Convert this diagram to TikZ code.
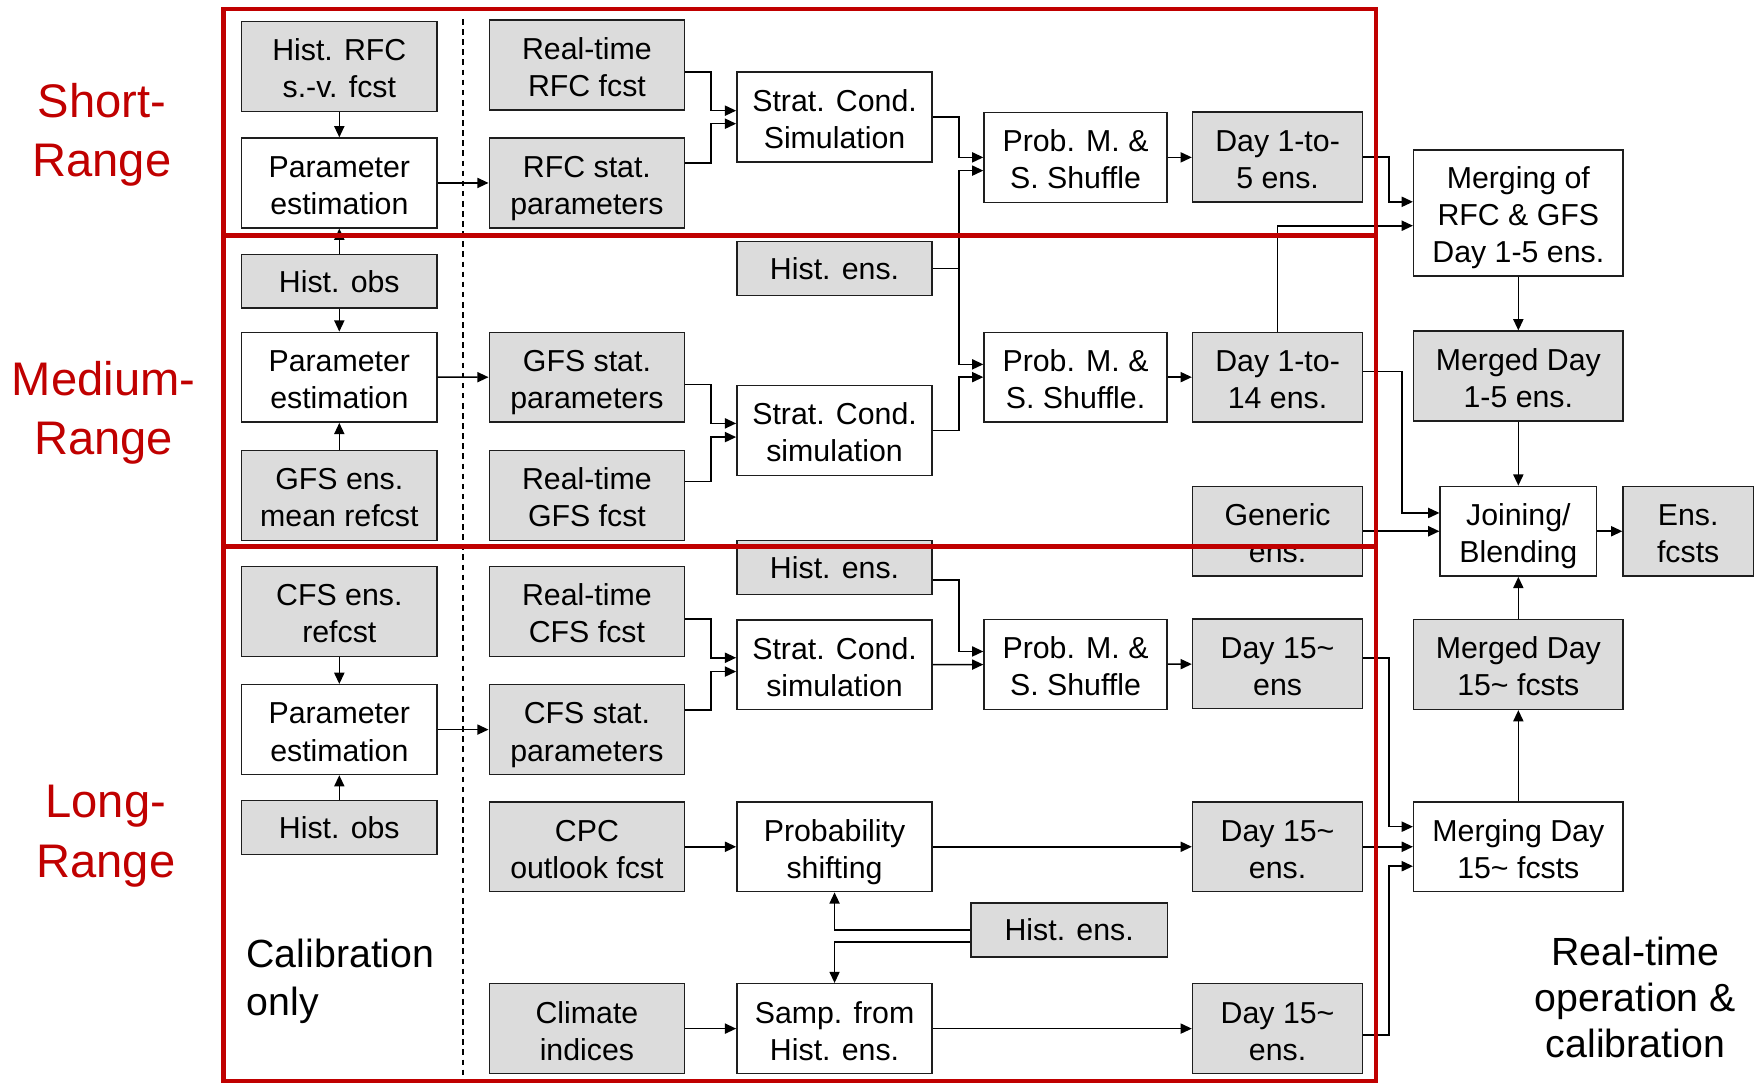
\documentclass[tikz,border=0pt]{standalone}
\usepackage{fontspec}
\setmainfont{Liberation Sans}
\usetikzlibrary{arrows.meta}
\definecolor{boxgray}{RGB}{220,220,220}
\definecolor{framered}{RGB}{192,0,0}
\definecolor{edgecol}{RGB}{30,30,30}
\newcommand{\hs}{\rule{0pt}{29pt}}
\newcommand{\ds}{\rule[-6pt]{0pt}{6pt}}
\begin{document}
\begin{tikzpicture}[x=1pt,y=-1pt,
  bx/.style={draw=edgecol, line width=1.3pt, inner sep=0pt, align=center,
    font=\fontsize{27}{33}\selectfont, minimum height=80pt},
  gb/.style={bx, fill=boxgray},
  wb/.style={bx, fill=white},
  lowbox/.style={minimum height=48pt},
  c1/.style={minimum width=174pt},
  c2/.style={minimum width=174pt},
  c3/.style={minimum width=174pt},
  c4/.style={minimum width=163pt},
  c5/.style={minimum width=151.5pt},
  c6/.style={minimum width=186.5pt},
  arr/.style={line width=1.4pt, draw=black, -{Triangle[length=10pt,width=9pt]}},
  ln/.style={line width=1.4pt, draw=black},
  redlab/.style={text=framered, align=center, font=\fontsize{42}{53}\selectfont, inner sep=0pt},
  biglab/.style={align=center, inner sep=0pt, font=\fontsize{35}{41}\selectfont}
]
\useasboundingbox (0,0) rectangle (1568,965);

% column 1
\node[gb,c1] (hrfc) at (302.3,59.2) {\hs Hist. RFC\\s.-v. fcst\ds};
\node[wb,c1] (pe1) at (302.3,163) {\hs Parameter\\estimation\ds};
\node[gb,c1,lowbox] (hobs1) at (302.3,250.5) {Hist. obs};
\node[wb,c1] (pe2) at (302.3,336.1) {\hs Parameter\\estimation\ds};
\node[gb,c1] (gfsm) at (302.3,441.5) {\hs GFS ens.\\mean refcst\ds};
\node[gb,c1] (cfsr) at (302.3,544.7) {\hs CFS ens.\\refcst\ds};
\node[wb,c1] (pe3) at (302.3,650) {\hs Parameter\\estimation\ds};
\node[gb,c1,lowbox] (hobs2) at (302.3,737.1) {Hist. obs};

% column 2
\node[gb,c2] (rtrfc) at (522.9,58) {\hs Real-time\\RFC fcst\ds};
\node[gb,c2] (rfcs) at (522.9,163) {\hs RFC stat.\\parameters\ds};
\node[gb,c2] (gfss) at (522.9,336) {\hs GFS stat.\\parameters\ds};
\node[gb,c2] (rtgfs) at (522.9,441.5) {\hs Real-time\\GFS fcst\ds};
\node[gb,c2] (rtcfs) at (522.9,544.7) {\hs Real-time\\CFS fcst\ds};
\node[gb,c2] (cfss) at (522.9,650) {\hs CFS stat.\\parameters\ds};
\node[gb,c2] (cpc) at (522.9,754.4) {\hs CPC\\outlook fcst\ds};
\node[gb,c2] (clim) at (522.9,916.4) {\hs Climate\\indices\ds};

% column 3
\node[wb,c3] (sc1) at (743.5,104.2) {\hs Strat. Cond.\\Simulation\ds};
\node[gb,c3,lowbox] (he1) at (743.5,239.1) {Hist. ens.};
\node[wb,c3] (sc2) at (743.5,383.4) {\hs Strat. Cond.\\simulation\ds};
\node[gb,c3,lowbox] (he2) at (743.5,505.5) {Hist. ens.};
\node[wb,c3] (sc3) at (743.5,592.2) {\hs Strat. Cond.\\simulation\ds};
\node[wb,c3] (ps) at (743.5,754.4) {\hs Probability\\shifting\ds};
\node[wb,c3] (samp) at (743.5,916.4) {\hs Samp. from\\Hist. ens.\ds};

% column 4
\node[wb,c4] (pm1) at (958.2,140.2) {\hs Prob. M. \&\\S. Shuffle\ds};
\node[wb,c4] (pm2) at (958.2,336) {\hs Prob. M. \&\\S. Shuffle.\ds};
\node[wb,c4] (pm3) at (958.2,592) {\hs Prob. M. \&\\S. Shuffle\ds};
\node[gb,lowbox,minimum width=175pt] (he3) at (952.5,828.6) {Hist. ens.};

% column 5
\node[gb,c5] (d5) at (1138.2,139.8) {\hs Day 1-to-\\5 ens.\ds};
\node[gb,c5] (d14) at (1138.2,336) {\hs Day 1-to-\\14 ens.\ds};
\node[gb,c5] (gen) at (1138.2,473.3) {\hs Generic\\ens.\ds};
\node[gb,c5] (da) at (1138.2,591.4) {\hs Day 15\textasciitilde\\ens\ds};
\node[gb,c5] (db) at (1138.2,754.4) {\hs Day 15\textasciitilde\\ens.\ds};
\node[gb,c5] (dc) at (1138.2,916.4) {\hs Day 15\textasciitilde\\ens.\ds};

% column 6
\node[wb,c6,minimum height=112pt] (mrg) at (1352.7,189.7) {\hs Merging of\\RFC \& GFS\\Day 1-5 ens.\ds};
\node[gb,c6] (mgd) at (1352.7,335) {\hs Merged Day\\1-5 ens.\ds};
\node[wb,minimum width=139.3pt] (join) at (1352.7,473.3) {\hs Joining/\\Blending\ds};
\node[gb,minimum width=116pt] (ens) at (1504,473.3) {\hs Ens.\\fcsts\ds};
\node[gb,c6] (mgd15) at (1352.7,592) {\hs Merged Day\\15\textasciitilde{} fcsts\ds};
\node[wb,c6] (mrg15) at (1352.7,754.4) {\hs Merging Day\\15\textasciitilde{} fcsts\ds};

% connectors: short range
\draw[arr] (hrfc) -- (pe1);
\draw[arr] (hobs1) -- (pe1);
\draw[arr] (pe1) -- (rfcs);
\draw[arr] ([yshift=-6.3pt]rtrfc.east) -- ++(23,0) |- ([yshift=5.6pt]sc1.west);
\draw[arr] ([yshift=17.6pt]rfcs.east) -- ++(23,0) |- ([yshift=-6pt]sc1.west);
\draw[arr] (sc1.east) -- ++(23.2,0) |- (pm1.west);
\draw[ln] (he1.east) -- ++(23.2,0) coordinate (hj);
\draw[arr] (hj) |- ([yshift=-11.8pt]pm1.west);
\draw[arr] (hj) |- ([yshift=11.4pt]pm2.west);
\draw[arr] (pm1.east) -- (pm1.east -| d5.west);
\draw[arr] (d5.east) -- ++(23,0) |- ([yshift=9.9pt]mrg.west);

% medium range
\draw[arr] (hobs1) -- (pe2);
\draw[arr] (gfsm) -- (pe2);
\draw[arr] (pe2) -- (gfss);
\draw[arr] ([yshift=-6.7pt]gfss.east) -- ++(23,0) |- ([yshift=6.2pt]sc2.west);
\draw[arr] ([yshift=12.7pt]rtgfs.east) -- ++(23,0) |- ([yshift=-6pt]sc2.west);
\draw[arr] (sc2.east) -- ++(23.2,0) |- (pm2.west);
\draw[arr] (pm2) -- (d14);
\draw[arr] (d14.north) |- ([yshift=-11.4pt]mrg.west);
\draw[arr] (mrg) -- (mgd);
\draw[arr] (mgd) -- (join);
\draw[arr] ([yshift=5.2pt]d14.east) -- ++(34.4,0) |- ([yshift=16.3pt]join.west);
\draw[arr] (gen) -- (join);
\draw[arr] (join) -- (ens);
\draw[arr] (mgd15) -- (join);
\draw[arr] (mrg15) -- (mgd15);

% long range
\draw[arr] (cfsr) -- (pe3);
\draw[arr] (hobs2) -- (pe3);
\draw[arr] (pe3) -- (cfss);
\draw[arr] ([yshift=-6.8pt]rtcfs.east) -- ++(23,0) |- ([yshift=6.2pt]sc3.west);
\draw[arr] ([yshift=17.7pt]cfss.east) -- ++(23,0) |- ([yshift=-6.1pt]sc3.west);
\draw[arr] ([yshift=-11.1pt]he2.east) -- ++(23.2,0) |- ([yshift=11.6pt]pm3.west);
\draw[arr] (sc3) -- (pm3);
\draw[arr] (pm3) -- (da);
\draw[arr] (cpc) -- (ps);
\draw[arr] (ps) -- (db);
\draw[arr] (clim) -- (samp);
\draw[arr] (samp) -- (dc);
\draw[arr] (he3.west) -| (ps.south);
\draw[arr] ([yshift=-10.4pt]he3.west) -| (samp.north);
\draw[arr] ([yshift=5.4pt]da.east) -- ++(23,0) |- ([yshift=17.9pt]mrg15.west);
\draw[arr] (db) -- (mrg15);
\draw[arr] ([yshift=-5.9pt]dc.east) -- ++(23,0) |- ([yshift=-17.3pt]mrg15.west);

% dashed separator
\draw[line width=1pt, dash pattern=on 5pt off 4pt] (412.5,17) -- (412.5,965);

% red frame
\draw[framered, line width=4pt] (199,8) rectangle (1226,963);
\draw[framered, line width=4pt] (199,210) -- (1226,210);
\draw[framered, line width=4pt] (199,487) -- (1226,487);

% labels
\node[redlab] (lshort) at (90.7,120) {Short-\\Range};
\node[redlab] (lmed) at (92.3,368) {Medium-\\Range};
\node[redlab] (llong) at (94.3,745) {Long-\\Range};
\node[biglab, align=left, anchor=west, font=\fontsize{35}{43}\selectfont] (calib) at (219.5,874) {Calibration\\only};
\node[biglab] (rtop) at (1457,888.5) {Real-time\\operation \&\\calibration};
\end{tikzpicture}
\end{document}
